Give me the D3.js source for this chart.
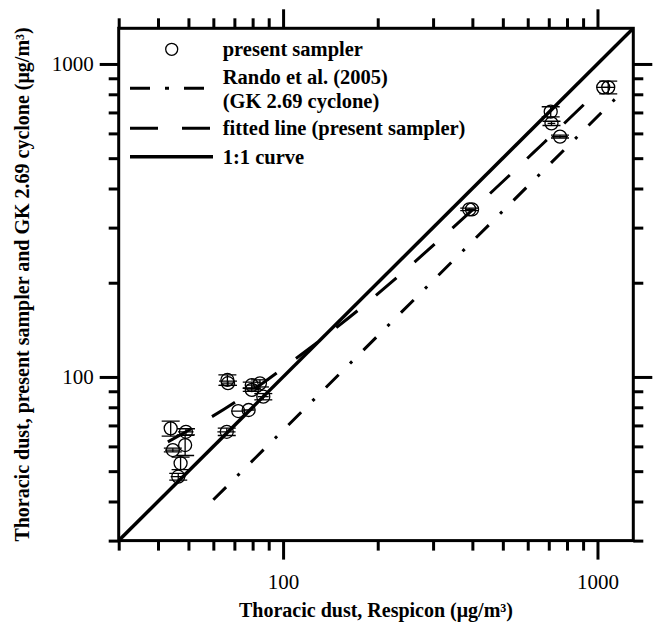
<!DOCTYPE html>
<html>
<head>
<meta charset="utf-8">
<script src="https://cdn.jsdelivr.net/npm/d3@7"></script>
<style>
  body { margin: 0; background: #fff; }
  text { font-family: "Liberation Serif", "Times New Roman", serif; fill: #000; }
</style>
</head>
<body>
<div id="chart"></div>
<script>
// present sampler vs Respicon (ug/m3)
var samplerX    = [43.9, 49.1, 44.6, 48.8, 47.2, 46.4, 66.5, 66.8, 66.2, 72.0, 77.7, 79.5, 84.4, 79.5, 86.5, 391, 399, 710, 714, 760, 1043, 1082];
var samplerY    = [68.5, 66.8, 58.4, 60.6, 53.0, 48.0, 97.8, 95.5, 66.8, 77.8, 78.4, 94.2, 95.4, 90.9, 86.5, 343, 343, 704, 646, 586, 842, 842];
var samplerXErr = [0, 2.8, 2.5, 0, 0, 2.5, 0, 2.5, 4.4, 3.5, 3.5, 3, 0, 3, 3.5, 10, 10, 0, 20, 45, 50, 50];
var samplerYErr = [3.8, 1.5, 0.8, 4.5, 2.4, 1.2, 3.8, 1.5, 1.8, 0, 0, 2, 2.5, 1, 2, 3, 0, 26, 10, 6, 0, 40];

// Rando et al. (2005), GK 2.69 cyclone
var randoX = [60, 1200];
var randoY = [40.5, 815];

// fitted line (present sampler)
var fitX = [43, 70.8, 111.8, 161.8, 383.7, 656, 924, 1000];
var fitY = [62, 83.4, 116, 154.6, 329, 545, 757, 818];

// 1:1 curve
var oneX = [30, 1300];
var oneY = [30, 1300];

var majorTicks = [100, 1000];
var minorTicks = [30, 40, 50, 60, 70, 80, 90, 200, 300, 400, 500, 600, 700, 800, 900];

var legendLabels = ["present sampler", "Rando et al. (2005)", "(GK 2.69 cyclone)", "fitted line (present sampler)", "1:1 curve"];

var W = 654, H = 627;
var margin = {top: 28.3, right: 20.7, bottom: 86.4, left: 118.7};
var width = W - margin.left - margin.right,
    height = H - margin.top - margin.bottom;

var x = d3.scaleLog().domain([30, 1300]).range([0, width]);
var y = d3.scaleLog().domain([30, 1300]).range([height, 0]);

var svg = d3.select("#chart").append("svg")
    .attr("width", W)
    .attr("height", H);
svg.append("rect").attr("width", W).attr("height", H).attr("fill", "#fff");

var g = svg.append("g")
    .attr("transform", "translate(" + margin.left + "," + margin.top + ")");

//Axes - ticks point outward on all four sides
function styleAxis(sel){
  sel.select(".domain").remove();
  sel.selectAll(".tick line").attr("stroke", "#000").attr("stroke-width", 3);
  sel.selectAll(".tick text")
    .style("font-size", "21px")
    .style("font-family", "'Liberation Serif', 'Times New Roman', serif");
}
var fmt = function(d){ return d3.format("d")(d); };

g.append("g").attr("transform", "translate(0," + height + ")")
  .call(d3.axisBottom(x).tickValues(minorTicks).tickSize(10).tickFormat(""))
  .call(styleAxis);
g.append("g").attr("transform", "translate(0," + height + ")")
  .call(d3.axisBottom(x).tickValues(majorTicks).tickSize(19).tickPadding(14).tickFormat(fmt))
  .call(styleAxis);
g.append("g")
  .call(d3.axisTop(x).tickValues(minorTicks).tickSize(10).tickFormat(""))
  .call(styleAxis);
g.append("g")
  .call(d3.axisTop(x).tickValues(majorTicks).tickSize(19).tickFormat(""))
  .call(styleAxis);
g.append("g")
  .call(d3.axisLeft(y).tickValues(minorTicks).tickSize(10).tickFormat(""))
  .call(styleAxis);
g.append("g")
  .call(d3.axisLeft(y).tickValues(majorTicks).tickSize(19).tickPadding(6).tickFormat(fmt))
  .call(styleAxis);
g.append("g").attr("transform", "translate(" + width + ",0)")
  .call(d3.axisRight(y).tickValues(minorTicks).tickSize(10).tickFormat(""))
  .call(styleAxis);
g.append("g").attr("transform", "translate(" + width + ",0)")
  .call(d3.axisRight(y).tickValues(majorTicks).tickSize(19).tickFormat(""))
  .call(styleAxis);

//Lines
var line = d3.line()
  .x(function(d){ return x(d[0]); })
  .y(function(d){ return y(d[1]); });

g.append("clipPath").attr("id", "clip")
  .append("rect").attr("width", width).attr("height", height);

var plot = g.append("g").attr("clip-path", "url(#clip)");

plot.append("path")
  .datum(d3.zip(oneX, oneY))
  .attr("d", line)
  .attr("fill", "none").attr("stroke", "#000").attr("stroke-width", 3.5);

plot.append("path")
  .datum(d3.zip(randoX, randoY))
  .attr("d", line)
  .attr("fill", "none").attr("stroke", "#000").attr("stroke-width", 3)
  .attr("stroke-dasharray", "18,16,3,16");

plot.append("path")
  .datum(d3.zip(fitX, fitY))
  .attr("d", line.curve(d3.curveMonotoneX))
  .attr("fill", "none").attr("stroke", "#000").attr("stroke-width", 3)
  .attr("stroke-dasharray", "27,24");
line.curve(d3.curveLinear);

//Error bars and markers
var pts = samplerX.map(function(d, i){
  return {x: d, y: samplerY[i], xe: samplerXErr[i], ye: samplerYErr[i]};
});
var capW = 9;
var eb = plot.append("g").attr("stroke", "#000").attr("stroke-width", 1.3);
pts.forEach(function(d){
  var cx = x(d.x), cy = y(d.y);
  if (d.ye > 0) {
    var y0 = y(d.y - d.ye), y1 = y(d.y + d.ye);
    eb.append("line").attr("x1", cx).attr("x2", cx).attr("y1", y0).attr("y2", y1);
    eb.append("line").attr("x1", cx - capW).attr("x2", cx + capW).attr("y1", y0).attr("y2", y0);
    eb.append("line").attr("x1", cx - capW).attr("x2", cx + capW).attr("y1", y1).attr("y2", y1);
  }
  if (d.xe > 0) {
    eb.append("line").attr("x1", x(d.x - d.xe)).attr("x2", x(d.x + d.xe)).attr("y1", cy).attr("y2", cy);
  }
});
plot.selectAll("circle.pt")
  .data(pts)
  .enter().append("circle")
  .attr("class", "pt")
  .attr("cx", function(d){ return x(d.x); })
  .attr("cy", function(d){ return y(d.y); })
  .attr("r", 6.5)
  .attr("fill", "none")
  .attr("stroke", "#000")
  .attr("stroke-width", 1.3);

//Frame
g.append("rect")
  .attr("width", width).attr("height", height)
  .attr("fill", "none").attr("stroke", "#000").attr("stroke-width", 3);

//Legend
var leg = svg.append("g");
var legText = [
  {t: legendLabels[0], y: 49.3},
  {t: legendLabels[1], y: 77},
  {t: legendLabels[2], y: 100.5},
  {t: legendLabels[3], y: 128.3},
  {t: legendLabels[4], y: 156.7}
];
leg.selectAll("text")
  .data(legText)
  .enter().append("text")
  .attr("x", 222.7)
  .attr("y", function(d){ return d.y; })
  .attr("dy", "0.35em")
  .style("font-size", "20.5px")
  .style("font-weight", "bold")
  .text(function(d){ return d.t; });

leg.append("circle").attr("cx", 171.7).attr("cy", 49.3).attr("r", 6)
  .attr("fill", "none").attr("stroke", "#000").attr("stroke-width", 1.3);
leg.append("line").attr("x1", 130).attr("x2", 204).attr("y1", 88.3).attr("y2", 88.3)
  .attr("stroke", "#000").attr("stroke-width", 3).attr("stroke-dasharray", "20,15,4,15");
leg.append("line").attr("x1", 130).attr("x2", 210).attr("y1", 128.3).attr("y2", 128.3)
  .attr("stroke", "#000").attr("stroke-width", 3).attr("stroke-dasharray", "28,24");
leg.append("line").attr("x1", 130).attr("x2", 213).attr("y1", 156.7).attr("y2", 156.7)
  .attr("stroke", "#000").attr("stroke-width", 3.5);

//Axis titles
svg.append("text")
  .attr("x", margin.left + width / 2)
  .attr("y", 617)
  .attr("text-anchor", "middle")
  .style("font-size", "20px")
  .style("font-weight", "bold")
  .text("Thoracic dust, Respicon (μg/m³)");

svg.append("text")
  .attr("transform", "translate(29," + (margin.top + height / 2) + ") rotate(-90)")
  .attr("text-anchor", "middle")
  .style("font-size", "20px")
  .style("font-weight", "bold")
  .text("Thoracic dust, present sampler and GK 2.69 cyclone (μg/m³)");
</script>
</body>
</html>
